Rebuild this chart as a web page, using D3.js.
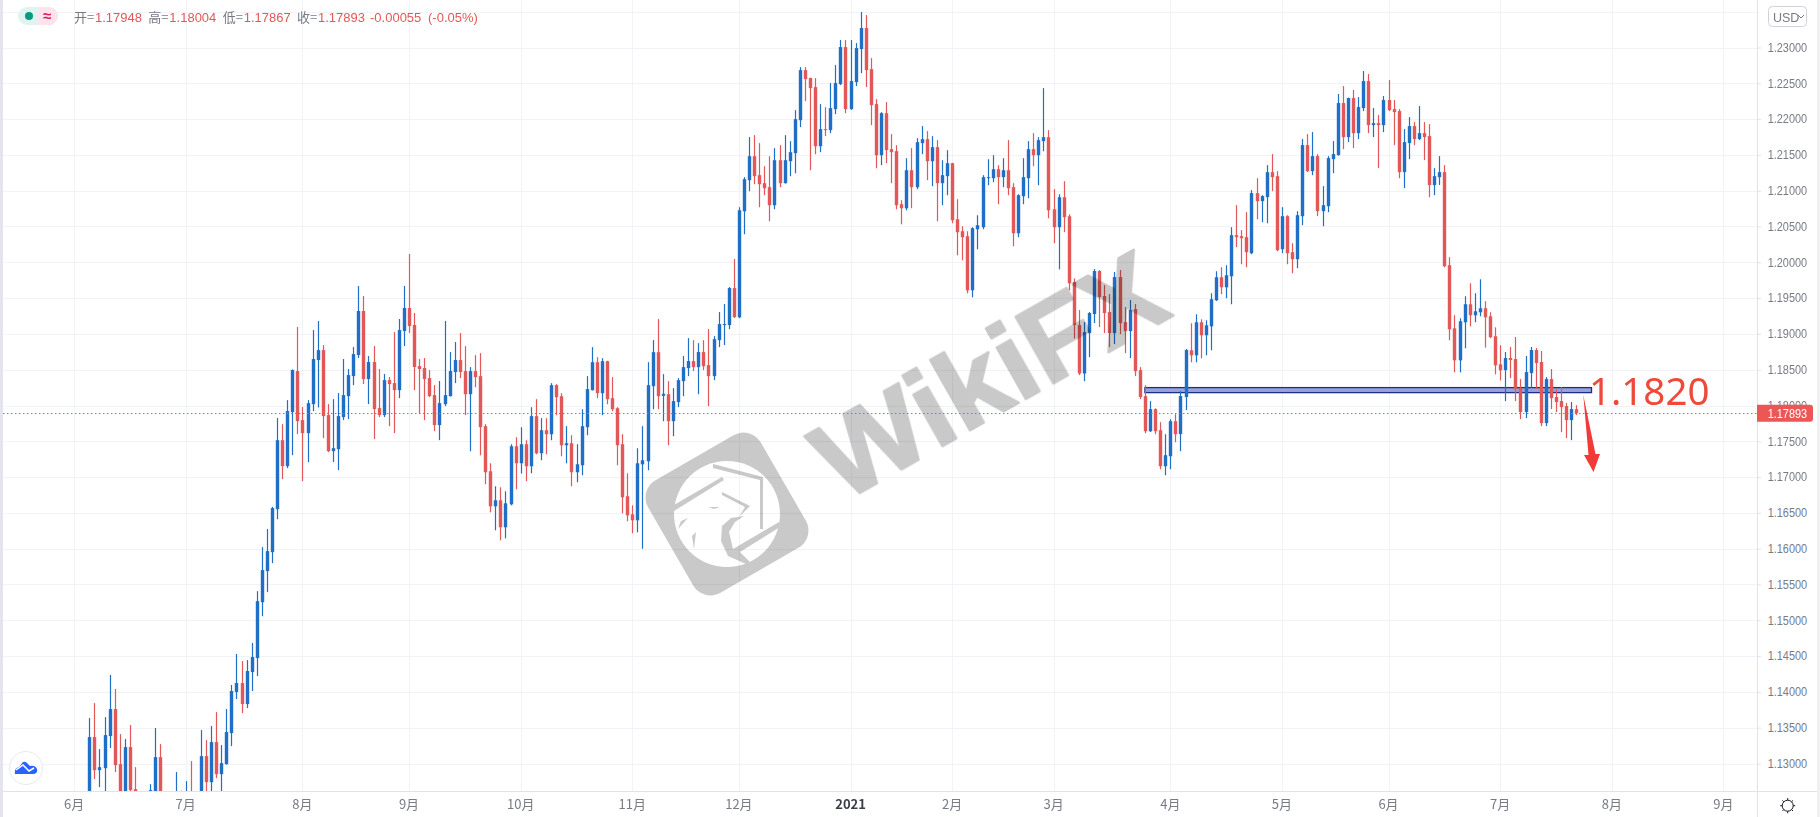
<!DOCTYPE html>
<html>
<head>
<meta charset="utf-8">
<script src="https://cdn.jsdelivr.net/npm/d3@7/dist/d3.min.js"></script>
<style>
  html, body { margin: 0; padding: 0; background: #ffffff; overflow: hidden; }
  svg { display: block; font-family: "Liberation Sans", sans-serif; }
</style>
</head>
<body>
<svg id="chart"></svg>
<script>
// EURUSD daily candles (bars below the axis are estimates)
const opens = [
  1.1240,1.13369,1.12907,1.12935,1.13383,1.13760,1.12991,1.1250,1.13229,1.12642,
  1.1250,1.1240,1.1240,1.1245,1.13089,1.1245,1.1235,1.1220,1.1240,1.1230,
  1.1250,1.1235,1.1250,1.13103,1.12740,1.13299,1.12851,1.12991,1.13425,1.13998,
  1.14124,1.13830,1.14277,1.14473,1.15253,1.15687,1.15952,1.16552,1.17516,1.17153,
  1.17908,1.18481,1.17796,1.17614,1.18019,1.18635,1.18774,1.17866,1.17363,1.17390,
  1.17838,1.18131,1.18411,1.18705,1.19320,1.18369,1.18607,1.17964,1.17866,1.18355,
  1.18313,1.18215,1.19040,1.19362,1.19124,1.18551,1.18523,1.18383,1.18145,1.17726,
  1.18019,1.18131,1.18467,1.18635,1.18480,1.18158,1.18480,1.18410,1.17711,1.17082,
  1.16592,1.16676,1.16299,1.16620,1.17431,1.17193,1.17459,1.17152,1.17851,1.17333,
  1.17655,1.17599,1.18284,1.18130,1.17445,1.17473,1.17068,1.17165,1.17697,1.18214,
  1.18605,1.18172,1.18619,1.18102,1.17962,1.17459,1.16732,1.16480,1.16397,1.17179,
  1.17221,1.18270,1.18745,1.18135,1.18158,1.17781,1.18047,1.18340,1.18522,1.18620,
  1.18536,1.18746,1.18564,1.18410,1.18913,1.19123,1.19123,1.19640,1.19231,1.20713,
  1.21147,1.21482,1.21217,1.21105,1.21049,1.20797,1.21426,1.21105,1.21412,1.21524,
  1.21985,1.22684,1.22573,1.22447,1.21622,1.21860,1.21846,1.22139,1.22489,1.23006,
  1.22139,1.22517,1.22978,1.23272,1.22698,1.22209,1.21496,1.22083,1.21580,1.21552,
  1.20811,1.20755,1.21286,1.21049,1.21664,1.21720,1.21412,1.21608,1.21105,1.21203,
  1.21384,1.20601,1.20434,1.20364,1.19609,1.20462,1.20490,1.21175,1.21175,1.21300,
  1.21189,1.21286,1.21049,1.20406,1.20923,1.21175,1.21580,1.21496,1.21692,1.21748,
  1.20741,1.20490,1.20909,1.20643,1.19724,1.19123,1.18447,1.19011,1.19277,1.19878,
  1.19529,1.19305,1.19011,1.19794,1.19165,1.19039,1.19347,1.18494,1.18130,1.17641,
  1.17949,1.17655,1.17152,1.17292,1.17781,1.17601,1.18118,1.18771,1.18701,1.19162,
  1.18981,1.19106,1.19470,1.19791,1.19651,1.19805,1.20379,1.20365,1.20351,1.20127,
  1.20966,1.20854,1.20910,1.21259,1.21203,1.20183,1.20644,1.20141,1.20043,1.20644,
  1.21637,1.21273,1.21483,1.20714,1.20784,1.21441,1.21497,1.22224,1.21749,1.22294,
  1.21804,1.22154,1.22531,1.21916,1.21944,1.21916,1.22266,1.22140,1.22112,1.21259,
  1.21665,1.21902,1.21721,1.21804,1.21763,1.21078,1.21189,1.21259,1.19959,1.19078,
  1.18631,1.19162,1.19414,1.19260,1.19302,1.19358,1.19246,1.18967,1.18575,1.18495,
  1.18663,1.18649,1.18243,1.17908,1.18453,1.18775,1.18607,1.17754,1.18369,1.18118,
  1.18062,1.17992,1.17796,1.17948
];
const closes = [
  1.13369,1.12907,1.12949,1.13397,1.13760,1.12977,1.1240,1.13229,1.12628,1.1250,
  1.1240,1.1230,1.12628,1.13089,1.1250,1.1235,1.1225,1.1245,1.1250,1.1250,
  1.1235,1.1250,1.13103,1.12740,1.13299,1.12851,1.13005,1.13439,1.14012,1.14124,
  1.13830,1.14291,1.14487,1.15267,1.15701,1.15966,1.16567,1.17516,1.17153,1.17922,
  1.18495,1.17782,1.17614,1.18033,1.18649,1.18774,1.17852,1.17363,1.17404,1.17852,
  1.18145,1.18425,1.18718,1.19320,1.18369,1.18607,1.17950,1.17866,1.18355,1.18299,
  1.18215,1.19054,1.19362,1.19110,1.18537,1.18509,1.18369,1.18131,1.17726,1.18033,
  1.18145,1.18481,1.18635,1.18467,1.18158,1.18480,1.18396,1.17697,1.17068,1.16592,
  1.16676,1.16299,1.16634,1.17431,1.17193,1.17459,1.17152,1.17851,1.17333,1.17655,
  1.17599,1.18284,1.18116,1.17445,1.17473,1.17068,1.17179,1.17711,1.18228,1.18605,
  1.18172,1.18619,1.18088,1.17948,1.17445,1.16718,1.16466,1.16397,1.17193,1.17235,
  1.18284,1.18745,1.18130,1.18163,1.17781,1.18061,1.18354,1.18536,1.18620,1.18536,
  1.18746,1.18550,1.18410,1.18927,1.19137,1.19137,1.19640,1.19235,1.20727,1.21161,
  1.21482,1.21203,1.21091,1.21035,1.20797,1.21426,1.21105,1.21426,1.21538,1.21999,
  1.22684,1.22559,1.22433,1.21622,1.21860,1.21846,1.22153,1.22503,1.23006,1.22139,
  1.22531,1.22992,1.23272,1.22684,1.22195,1.21496,1.22083,1.21566,1.21538,1.20797,
  1.20755,1.21286,1.21049,1.21678,1.21720,1.21412,1.21608,1.21105,1.21217,1.21384,
  1.20587,1.20420,1.20350,1.19609,1.20476,1.20518,1.21189,1.21189,1.21300,1.21189,
  1.21286,1.21035,1.20406,1.20937,1.21189,1.21580,1.21496,1.21706,1.21748,1.20727,
  1.20490,1.20909,1.20629,1.19707,1.19123,1.18447,1.19025,1.19291,1.19878,1.19515,
  1.19291,1.19011,1.19794,1.19151,1.19039,1.19333,1.18480,1.18117,1.17641,1.17949,
  1.17641,1.17152,1.17306,1.17781,1.17599,1.18132,1.18775,1.18701,1.19162,1.18981,
  1.19120,1.19484,1.19791,1.19651,1.19819,1.20379,1.20351,1.20337,1.20141,1.20966,
  1.20854,1.20924,1.21259,1.21189,1.20169,1.20644,1.20127,1.20043,1.20658,1.21637,
  1.21273,1.21483,1.20714,1.20798,1.21455,1.21511,1.22224,1.21749,1.22294,1.21804,
  1.22168,1.22531,1.21916,1.21944,1.21916,1.22266,1.22126,1.22098,1.21259,1.21679,
  1.21902,1.21721,1.21804,1.21749,1.21078,1.21203,1.21259,1.19945,1.19064,1.18631,
  1.19176,1.19414,1.19260,1.19316,1.19358,1.19232,1.18953,1.18561,1.18491,1.18663,
  1.18635,1.18229,1.17908,1.18467,1.18775,1.18593,1.17754,1.18369,1.18104,1.18048,
  1.17978,1.17796,1.17950,1.17893
];
const highs = [
  1.13634,1.13844,1.13201,1.13648,1.14236,1.14040,1.13411,1.13341,1.13537,1.12949,
  1.1260,1.1250,1.12712,1.13495,1.13271,1.1255,1.1250,1.1288,1.1262,1.12754,
  1.13033,1.1258,1.13467,1.13327,1.13523,1.13718,1.13257,1.13760,1.14096,1.14529,
  1.14431,1.14445,1.14683,1.15407,1.16022,1.16274,1.16585,1.17824,1.17740,1.18075,
  1.18505,1.19096,1.17978,1.18075,1.19054,1.19180,1.18844,1.18020,1.18089,1.18173,
  1.18649,1.18509,1.18816,1.19669,1.19529,1.18691,1.18830,1.18509,1.18439,1.18397,
  1.19026,1.19208,1.19669,1.20116,1.19292,1.18649,1.18663,1.18495,1.18285,1.18341,
  1.19180,1.18746,1.18886,1.19012,1.18829,1.18536,1.18703,1.18731,1.17739,1.17193,
  1.16872,1.16858,1.16802,1.17459,1.17557,1.17697,1.17515,1.17976,1.18088,1.17823,
  1.17823,1.18312,1.18298,1.18172,1.17711,1.17585,1.17459,1.17948,1.18410,1.18815,
  1.18675,1.18661,1.18625,1.18396,1.17976,1.17599,1.17054,1.16606,1.17403,1.17711,
  1.18605,1.18913,1.19207,1.18438,1.18340,1.18242,1.18382,1.18690,1.18941,1.18913,
  1.18871,1.18913,1.19067,1.18969,1.19305,1.19417,1.19654,1.20046,1.20769,1.21189,
  1.21748,1.21776,1.21664,1.21342,1.21482,1.21594,1.21636,1.21776,1.21692,1.22125,
  1.22726,1.22726,1.22580,1.22573,1.22209,1.22167,1.22503,1.22754,1.23104,1.23104,
  1.23104,1.23062,1.23495,1.23453,1.22852,1.22279,1.22097,1.22237,1.21790,1.21636,
  1.20867,1.21454,1.21594,1.21734,1.21902,1.21832,1.21762,1.21706,1.21426,1.21566,
  1.21390,1.20881,1.20504,1.20434,1.20490,1.20657,1.21217,1.21440,1.21496,1.21356,
  1.21454,1.21706,1.21105,1.20951,1.21454,1.21692,1.21804,1.21748,1.22433,1.21846,
  1.21021,1.20951,1.21133,1.20671,1.19775,1.19333,1.19165,1.19305,1.19906,1.19892,
  1.19682,1.19556,1.19864,1.19892,1.19375,1.19473,1.19417,1.18536,1.18284,1.18061,
  1.17960,1.17767,1.17599,1.17809,1.17879,1.18202,1.18789,1.19148,1.19274,1.19204,
  1.19190,1.19568,1.19875,1.19931,1.19959,1.20490,1.20798,1.20449,1.20700,1.21008,
  1.21175,1.20938,1.21357,1.21511,1.21273,1.20770,1.20658,1.20267,1.20714,1.21721,
  1.21790,1.21818,1.21511,1.21064,1.21483,1.21693,1.22350,1.22461,1.22300,1.22406,
  1.22308,1.22671,1.22629,1.22154,1.22056,1.22322,1.22545,1.22266,1.22140,1.21860,
  1.22028,1.21958,1.22182,1.21958,1.21930,1.21315,1.21483,1.21357,1.20071,1.19260,
  1.19218,1.19526,1.19707,1.19568,1.19763,1.19456,1.19302,1.19092,1.18841,1.18747,
  1.18817,1.18956,1.18369,1.18691,1.18817,1.18803,1.18761,1.18397,1.18509,1.18229,
  1.18257,1.18034,1.18048,1.18004
];
const lows = [
  1.1220,1.12782,1.12670,1.1250,1.13215,1.12880,1.1235,1.1240,1.1255,1.1245,
  1.1230,1.1220,1.1230,1.1235,1.1240,1.1225,1.1215,1.1215,1.1230,1.1225,
  1.1225,1.1225,1.1240,1.1255,1.1255,1.12796,1.1255,1.12985,1.13243,1.13900,
  1.13704,1.13774,1.14012,1.14222,1.15057,1.15393,1.15798,1.16412,1.16971,1.17125,
  1.17307,1.17600,1.16943,1.17209,1.17922,1.17973,1.17544,1.17348,1.17209,1.17097,
  1.17796,1.17810,1.18285,1.18663,1.18299,1.18020,1.17530,1.17838,1.17838,1.17712,
  1.17614,1.18103,1.18830,1.19012,1.18215,1.17880,1.17796,1.18117,1.17642,1.17516,
  1.17991,1.18125,1.18313,1.18383,1.17865,1.17361,1.18256,1.17305,1.16900,1.16508,
  1.16257,1.16117,1.16145,1.16606,1.16830,1.17050,1.16942,1.17054,1.17319,1.17235,
  1.17319,1.17515,1.17865,1.17291,1.17193,1.16872,1.16928,1.17026,1.17585,1.18210,
  1.18102,1.17865,1.18018,1.17920,1.17165,1.16494,1.16383,1.16215,1.16229,1.15999,
  1.17096,1.17948,1.17948,1.17781,1.17445,1.17571,1.17977,1.18130,1.18410,1.18480,
  1.18158,1.18494,1.17991,1.18354,1.18816,1.18844,1.19067,1.19221,1.19220,1.20392,
  1.20993,1.21091,1.20769,1.20937,1.20573,1.20741,1.21049,1.21100,1.21203,1.21244,
  1.21888,1.22251,1.21286,1.21510,1.21538,1.21762,1.21804,1.22069,1.22475,1.22083,
  1.22130,1.22461,1.22642,1.22447,1.21916,1.21314,1.21356,1.21384,1.21105,1.20741,
  1.20531,1.20727,1.20755,1.21021,1.21510,1.21147,1.21063,1.20573,1.20797,1.20937,
  1.20545,1.20098,1.20028,1.19567,1.19511,1.20182,1.20462,1.21077,1.21119,1.20811,
  1.21049,1.20937,1.20224,1.20350,1.20811,1.20895,1.21342,1.21077,1.21552,1.20615,
  1.20266,1.19902,1.20420,1.19609,1.18937,1.18424,1.18340,1.18676,1.19151,1.19095,
  1.19011,1.18816,1.18858,1.18997,1.18732,1.18662,1.18410,1.18089,1.17613,1.17630,
  1.17599,1.17110,1.17026,1.17110,1.17487,1.17363,1.17936,1.18603,1.18603,1.18659,
  1.18701,1.18771,1.19460,1.19554,1.19498,1.19414,1.20211,1.19973,1.19931,1.20113,
  1.20602,1.20560,1.20546,1.20994,1.20155,1.20127,1.19973,1.19847,1.19917,1.20518,
  1.21260,1.21217,1.20644,1.20504,1.20700,1.21245,1.21490,1.21581,1.21679,1.21595,
  1.21721,1.22112,1.21804,1.21749,1.21315,1.21818,1.22110,1.21637,1.21175,1.21036,
  1.21441,1.21637,1.21707,1.21427,1.20910,1.20938,1.21080,1.19930,1.18911,1.18463,
  1.18463,1.18799,1.19106,1.19162,1.19246,1.18809,1.18940,1.18435,1.18351,1.18062,
  1.18383,1.18062,1.17810,1.17824,1.18243,1.18229,1.17712,1.17712,1.17950,1.17908,
  1.17628,1.17544,1.17516,1.17867
];

const priceTicks = [1.13,1.135,1.14,1.145,1.15,1.155,1.16,1.165,1.17,1.175,1.18,1.185,1.19,1.195,1.2,1.205,1.21,1.215,1.22,1.225,1.23];
const monthBars = [-3,19,42,63,85,107,128,150,170,190,213,235,256,278,300,322];
const monthLabels = ['6月','7月','8月','9月','10月','11月','12月','2021','2月','3月','4月','5月','6月','7月','8月','9月'];

const legendKeys = ['开=','高=','低=','收='];
const legendVals = ['1.17948','1.18004','1.17867','1.17893'];
const lastPrice = 1.17893;
const levelBand = [1.1825, 1.1818];
const levelBars = [208, 296];

const width = 1820, height = 817;
const plotRight = 1757, plotBottom = 791, plotLeft = 3;
const upColor = '#1f6fc6', downColor = '#e25858', gridColor = '#f1f3f8', axisColor = '#e0e3eb', textColor = '#787b86';

let x = d3.scaleLinear().domain([0, opens.length - 1]).range([89.3, 1576.3]);
let y = d3.scaleLinear().domain([1.13, 1.23]).range([763.5, 47.5]);

let svg = d3.select('#chart').attr('width', width).attr('height', height);
svg.append('rect').attr('width', width).attr('height', height).attr('fill', '#ffffff');
svg.append('rect').attr('width', plotLeft).attr('height', height).attr('fill', '#e3e4f0');
svg.append('rect').attr('x', 1817).attr('width', 3).attr('height', height).attr('fill', '#f0f0f3');

svg.append('defs').append('clipPath').attr('id', 'plot-clip')
  .append('rect').attr('x', plotLeft).attr('y', 0).attr('width', plotRight - plotLeft).attr('height', plotBottom);

// grid
let grid = svg.append('g');
grid.selectAll('.h').data(priceTicks.concat([1.235])).enter().append('line')
  .attr('x1', plotLeft).attr('x2', plotRight)
  .attr('y1', d => Math.round(y(d)) + 0.5).attr('y2', d => Math.round(y(d)) + 0.5)
  .attr('stroke', gridColor);
grid.selectAll('.v').data(monthBars).enter().append('line')
  .attr('x1', d => Math.round(x(d)) + 0.5).attr('x2', d => Math.round(x(d)) + 0.5)
  .attr('y1', 0).attr('y2', plotBottom)
  .attr('stroke', gridColor);

// the 1.1820 level sits under the candles
let plot = svg.append('g').attr('clip-path', 'url(#plot-clip)');
plot.append('rect')
  .attr('x', x(levelBars[0])).attr('width', x(levelBars[1]) - x(levelBars[0]))
  .attr('y', y(levelBand[0])).attr('height', y(levelBand[1]) - y(levelBand[0]))
  .attr('fill', '#97a4dc').attr('stroke', '#1b2f86').attr('stroke-width', 1.3);

// candles
let candle = plot.selectAll('.candle').data(opens.map((o, i) => i)).enter().append('g')
  .attr('fill', i => closes[i] >= opens[i] ? upColor : downColor);
candle.append('rect')
  .attr('x', i => Math.round(x(i)) - 0.1)
  .attr('width', 1.2)
  .attr('y', i => y(highs[i]))
  .attr('height', i => y(lows[i]) - y(highs[i]));
candle.append('rect')
  .attr('x', i => Math.round(x(i)) - 1.2)
  .attr('width', 3.4)
  .attr('y', i => y(Math.max(opens[i], closes[i])))
  .attr('height', i => Math.max(1, Math.abs(y(opens[i]) - y(closes[i]))));

// watermark
let mark = svg.append('g').style('mix-blend-mode', 'multiply');
mark.append('text')
  .attr('transform', 'translate(842,503) rotate(-29.5)')
  .attr('font-size', 112).attr('font-weight', 700)
  .attr('textLength', 382).attr('lengthAdjust', 'spacingAndGlyphs')
  .attr('fill', '#c9c9c9').attr('stroke', '#c9c9c9').attr('stroke-width', 2.5).attr('stroke-linejoin', 'round')
  .text('WikiFX');
let logo = mark.append('g').attr('transform', 'translate(727,514)');
logo.append('rect')
  .attr('x', -65).attr('y', -65).attr('width', 130).attr('height', 130).attr('rx', 20)
  .attr('transform', 'rotate(-30)').attr('fill', '#c9c9c9');
logo.append('circle').attr('r', 53).attr('fill', '#ffffff');
[
  [[-53,-9],[-5,-37],[-3,-34],[-53,-3]],
  [[-14,-50],[36,-37],[36,15],[33,15],[33,-34],[-14,-46]],
  [[-5,-22],[23,-8],[12,3],[18,-7],[-5,-19]],
  [[-6,27],[-5,12],[4,4],[17,2],[8,8],[2,18],[6,35],[52,8],[53,13],[13,38],[23,48],[19,50],[1,42]],
  [[-49,15],[-39,4],[-46,7]],
  [[-33,35],[-31,18],[-35,22]],
  [[-19,-7],[-7,-7],[-13,-5]]
].forEach(p => logo.append('polygon').attr('points', p.join(' ')).attr('fill', '#c9c9c9'));

// last price line
svg.append('line')
  .attr('x1', plotLeft).attr('x2', plotRight)
  .attr('y1', Math.round(y(lastPrice)) + 0.5).attr('y2', Math.round(y(lastPrice)) + 0.5)
  .attr('stroke', downColor).attr('stroke-dasharray', '1.5 2.5');

// annotations
svg.append('text')
  .attr('x', 1589).attr('y', 405)
  .attr('font-family', '"Noto Sans", sans-serif').attr('font-size', 38.5)
  .attr('fill', '#ee4a3c')
  .text('1.1820');
svg.append('polygon')
  .attr('points', [[1583.3,395],[1595.5,454],[1600,454],[1593.5,472],[1584,455],[1588.5,455]].join(' '))
  .attr('fill', '#f23a38');

// price axis
let yAxis = d3.axisRight(y).tickValues(priceTicks).tickSize(4).tickFormat(d3.format('.5f'));
let yG = svg.append('g').attr('transform', 'translate(' + plotRight + ',0)').call(yAxis);
yG.select('.domain').remove();
yG.selectAll('line').attr('stroke', axisColor);
yG.selectAll('text')
  .attr('x', 10.7).attr('fill', textColor).attr('font-size', 12).attr('font-family', '"Liberation Sans", sans-serif')
  .attr('textLength', 39.5).attr('lengthAdjust', 'spacingAndGlyphs');
svg.append('line').attr('x1', plotRight + 0.5).attr('x2', plotRight + 0.5).attr('y1', 0).attr('y2', height).attr('stroke', axisColor);
svg.append('line').attr('x1', plotLeft).attr('x2', 1817).attr('y1', plotBottom + 0.5).attr('y2', plotBottom + 0.5).attr('stroke', axisColor);

// last price tag
let tagY = y(lastPrice);
svg.append('path')
  .attr('d', 'M1757,' + (tagY - 8.5) + 'h53q3,0 3,3v11q0,3 -3,3h-53z')
  .attr('fill', '#ec5655');
svg.append('text')
  .attr('x', 1767.7).attr('y', tagY + 4.5)
  .attr('fill', '#ffffff').attr('font-size', 12)
  .attr('textLength', 39.5).attr('lengthAdjust', 'spacingAndGlyphs')
  .text(d3.format('.5f')(lastPrice));

// time axis
svg.selectAll('.month').data(monthBars).enter().append('text')
  .attr('x', d => x(d))
  .attr('y', 809)
  .attr('text-anchor', 'middle')
  .attr('font-family', '"Noto Sans CJK SC", sans-serif')
  .attr('font-size', 13)
  .attr('font-weight', (d, i) => monthLabels[i] === '2021' ? 700 : 400)
  .attr('fill', (d, i) => monthLabels[i] === '2021' ? '#3a3d48' : textColor)
  .text((d, i) => monthLabels[i]);

// legend
let pill = svg.append('g');
pill.append('path').attr('d', 'M38,7h-11a9,9 0 0 0 0,18h11z').attr('fill', '#dff3f1');
pill.append('path').attr('d', 'M38,7h11a9,9 0 0 1 0,18h-11z').attr('fill', '#fce3ec');
pill.append('circle').attr('cx', 29).attr('cy', 16).attr('r', 4).attr('fill', '#089981');
pill.append('text').attr('x', 47).attr('y', 21).attr('text-anchor', 'middle').attr('font-size', 15).attr('font-weight', 700).attr('fill', '#d81b60').text('≈');

let legendX = d3.scaleLinear().domain([0, 3]).range([74, 297]);
legendKeys.forEach((k, i) => {
  svg.append('text').attr('x', legendX(i)).attr('y', 22)
    .attr('font-family', '"Noto Sans CJK SC", sans-serif').attr('font-size', 13).attr('fill', textColor).text(k);
  svg.append('text').attr('x', legendX(i) + 21).attr('y', 22)
    .attr('font-size', 13).attr('fill', downColor).text(legendVals[i]);
});
svg.append('text').attr('x', 370).attr('y', 22).attr('font-size', 13).attr('fill', downColor).text('-0.00055');
svg.append('text').attr('x', 428).attr('y', 22).attr('font-size', 13).attr('fill', downColor).text('(-0.05%)');

// USD box
svg.append('rect').attr('x', 1768.5).attr('y', 6.5).attr('width', 38).attr('height', 20).attr('rx', 4)
  .attr('fill', '#ffffff').attr('stroke', '#cfd2da');
svg.append('text').attr('x', 1773).attr('y', 21.5).attr('font-size', 12.5).attr('fill', textColor).text('USD');
svg.append('path').attr('d', 'M1798,15l3,3l3,-3').attr('fill', 'none').attr('stroke', textColor);

// cloud badge
let badge = svg.append('g').attr('transform', 'translate(26,768)');
badge.append('circle').attr('r', 16.5).attr('fill', '#ffffff').attr('stroke', '#e8e9ee');
badge.append('path')
  .attr('d', 'M-11,6 Q-12,0 -7,-1 L-3,-6 Q-1,-7 1,-5 L4,-2 Q9,-3 11,1 Q12,6 7,6 Z')
  .attr('fill', '#2962ff');
badge.append('path')
  .attr('d', 'M-10,2 L-3,-3 L3,3 L8,0').attr('fill', 'none').attr('stroke', '#ffffff').attr('stroke-width', 1.5);

// settings gear
let gear = svg.append('g').attr('transform', 'translate(1787.7,805.7)').attr('stroke', '#131722').attr('fill', 'none');
gear.append('circle').attr('r', 5.5);
d3.range(8).forEach(i => {
  let a = i * Math.PI / 4;
  gear.append('line')
    .attr('x1', 5.5 * Math.cos(a)).attr('y1', 5.5 * Math.sin(a))
    .attr('x2', 7.5 * Math.cos(a)).attr('y2', 7.5 * Math.sin(a));
});

if(opens.length !== closes.length || opens.length !== highs.length || opens.length !== lows.length){
  throw new Error('array length mismatch ' + [opens.length, closes.length, highs.length, lows.length]);
}
</script>
</body>
</html>
